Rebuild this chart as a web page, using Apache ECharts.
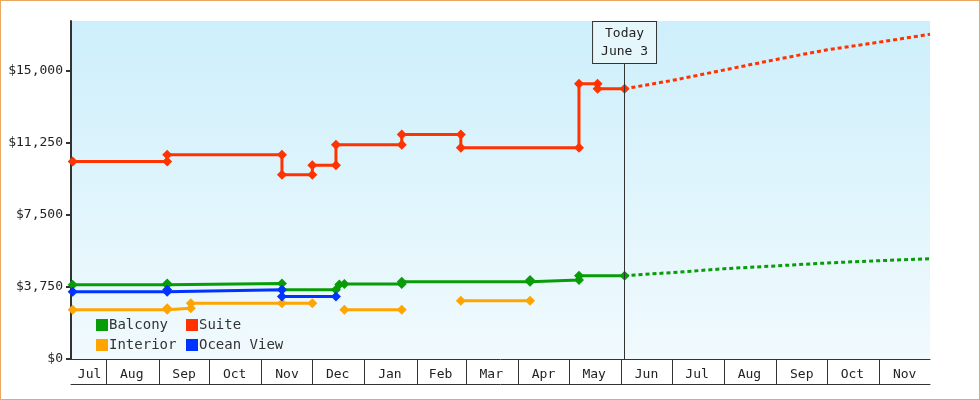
<!DOCTYPE html>
<html>
<head>
<meta charset="utf-8">
<script src="https://cdn.jsdelivr.net/npm/echarts@6/dist/echarts.min.js"></script>
<style>
html,body{margin:0;padding:0;background:#fff;}
#main{width:980px;height:400px;box-sizing:border-box;border:1px solid #e8a860;}
</style>
</head>
<body>
<div id="main"></div>
<script>
var myChart = echarts.init(document.getElementById('main'));

// price history (date, price) - duplicated dates are step changes
var balcony = [['2023-07-12',3860],['2023-09-06',3860],['2023-09-06',3930],['2023-11-13',3930],['2023-11-13',3600],
  ['2023-12-15',3600],['2023-12-17',3880],['2023-12-20',3900],['2024-01-23',3900],['2024-01-23',4020],
  ['2024-04-08',4020],['2024-04-08',4120],['2024-05-07',4120],['2024-05-07',4340],['2024-06-03',4340]];
var suite = [['2023-07-12',10290],['2023-09-06',10290],['2023-09-06',10640],['2023-11-13',10640],['2023-11-13',9600],
  ['2023-12-01',9600],['2023-12-01',10090],['2023-12-15',10090],['2023-12-15',11150],['2024-01-23',11150],
  ['2024-01-23',11690],['2024-02-27',11690],['2024-02-27',11000],['2024-05-07',11000],['2024-05-07',14330],
  ['2024-05-18',14330],['2024-05-18',14070],['2024-06-03',14070]];
var interior = [['2023-07-12',2570],['2023-09-06',2570],['2023-09-06',2640],['2023-09-20',2640],['2023-09-20',2900],
  ['2023-11-13',2900],['2023-12-01',2900],['2023-12-08',null],
  ['2023-12-20',2570],['2024-01-23',2570],['2024-02-10',null],
  ['2024-02-27',3030],['2024-04-08',3030]];
var oceanView = [['2023-07-12',3500],['2023-09-06',3500],['2023-09-06',3600],['2023-11-13',3600],['2023-11-13',3260],['2023-12-15',3260]];
// forecasts
var suiteForecast = [['2024-06-03',14070],['2024-07-01',14500],['2024-08-01',15050],['2024-09-01',15600],['2024-10-01',16100],['2024-11-01',16500],['2024-12-01',16910]];
var balconyForecast = [['2024-06-03',4340],['2024-07-01',4500],['2024-08-01',4700],['2024-09-01',4850],['2024-10-01',5000],['2024-11-01',5120],['2024-12-01',5220]];

var monthStarts = ['2023-08-01','2023-09-01','2023-10-01','2023-11-01','2023-12-01','2024-01-01','2024-02-01','2024-03-01',
  '2024-04-01','2024-05-01','2024-06-01','2024-07-01','2024-08-01','2024-09-01','2024-10-01','2024-11-01'];
var monthMids = ['2023-07-22','2023-08-16','2023-09-16','2023-10-16','2023-11-16','2023-12-16','2024-01-16','2024-02-15','2024-03-16',
  '2024-04-16','2024-05-16','2024-06-16','2024-07-16','2024-08-16','2024-09-16','2024-10-16','2024-11-16'];
var monthNames = ['Jan','Feb','Mar','Apr','May','Jun','Jul','Aug','Sep','Oct','Nov','Dec'];
var today = '2024-06-03';

var font = 'DejaVu Sans Mono';
function t(d){ return +new Date(d + 'T00:00:00Z'); }
function ts(a){ return a.map(t); }
function pts(a){ return a.map(function(p){ return [t(p[0]), p[1]]; }); }
var xMin = t('2023-07-11'), xMax = t('2024-12-01');

function hist(name, color, data) {
    return {
        name: name, type: 'line', data: pts(data), color: color,
        symbol: 'diamond', symbolSize: 10, showSymbol: true,
        lineStyle: {width: 3}, connectNulls: false, animation: false
    };
}
function fcast(name, color, data) {
    return {
        name: name, type: 'line', data: pts(data), color: color,
        symbol: 'none', lineStyle: {width: 3, type: [4, 3]}, animation: false
    };
}

var option = {
    textStyle: {fontFamily: font},
    backgroundColor: '#fff',
    grid: {left: 70, right: 49, top: 20, bottom: 40,
        show: true, borderWidth: 0,
        backgroundColor: new echarts.graphic.LinearGradient(0, 0, 0, 1, [
            {offset: 0, color: '#cdeffb'}, {offset: 1, color: '#f1fafd'}])},
    legend: [{
        orient: 'vertical', left: 90, top: 312, itemGap: 6, itemWidth: 12, itemHeight: 12,
        icon: 'rect', data: ['Balcony', 'Interior'],
        textStyle: {fontFamily: font, fontSize: 14, color: '#333', padding: [0, 0, 0, -4]}
    }, {
        orient: 'vertical', left: 180, top: 312, itemGap: 6, itemWidth: 12, itemHeight: 12,
        icon: 'rect', data: ['Suite', 'Ocean View'],
        textStyle: {fontFamily: font, fontSize: 14, color: '#333', padding: [0, 0, 0, -4]}
    }],
    xAxis: [{
        type: 'value', min: xMin, max: xMax,
        axisLine: {lineStyle: {color: '#333', width: 1}},
        axisTick: {show: true, customValues: ts(monthStarts), length: 25, lineStyle: {color: '#333'}},
        axisLabel: {customValues: ts(monthMids), color: '#222', fontSize: 13, fontFamily: font, margin: 9,
            formatter: function (v) { return monthNames[new Date(v).getUTCMonth()]; }},
        splitLine: {show: false}
    }, {
        type: 'value', min: xMin, max: xMax, position: 'bottom', offset: 25,
        axisLine: {lineStyle: {color: '#333', width: 1}},
        axisTick: {show: false}, axisLabel: {show: false}, splitLine: {show: false}
    }],
    yAxis: {
        type: 'value', min: 0, max: 17600, interval: 3750,
        axisLine: {show: true, lineStyle: {color: '#333', width: 2}},
        axisTick: {show: true, length: 5, lineStyle: {color: '#333', width: 2}},
        axisLabel: {color: '#222', fontSize: 13, fontFamily: font, margin: 8, showMaxLabel: false,
            formatter: function (v) { return '$' + v.toLocaleString('en-US'); }},
        splitLine: {show: false}
    },
    series: [
        hist('Balcony', '#089c08', balcony),
        hist('Suite', '#ff3300', suite),
        hist('Interior', '#ffa500', interior),
        hist('Ocean View', '#0033ff', oceanView),
        fcast('Suite', '#ff3300', suiteForecast),
        fcast('Balcony', '#089c08', balconyForecast),
        {
            type: 'line', data: [], animation: false,
            markLine: {
                symbol: 'none', silent: true, animation: false,
                lineStyle: {color: '#333', width: 1, type: 'solid'},
                label: {
                    show: true, position: 'end', distance: -42,
                    formatter: 'Today\nJune 3', color: '#222', fontFamily: font, fontSize: 13,
                    lineHeight: 18, backgroundColor: '#e6f7fc', borderColor: '#333', borderWidth: 1,
                    padding: [3, 8, 2, 8], align: 'center'
                },
                data: [{xAxis: t(today)}]
            }
        }
    ]
};
myChart.setOption(option);
</script>
</body>
</html>
